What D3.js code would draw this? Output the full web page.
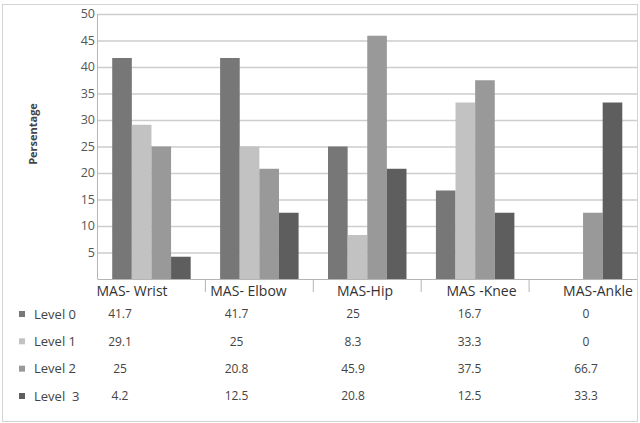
<!DOCTYPE html>
<html>
<head>
<meta charset="utf-8">
<script src="https://cdn.jsdelivr.net/npm/d3@7"></script>
<style>
  body { margin: 0; background: #fff; }
  text { font-family: "Open Sans", sans-serif; }
</style>
</head>
<body>
<svg id="chart" width="640" height="423"></svg>
<script>
// chart data
var categories = ["MAS- Wrist", "MAS- Elbow", "MAS-Hip", "MAS -Knee", "MAS-Ankle"];
var levels = ["Level 0", "Level 1", "Level 2", "Level  3"];
// bar heights as drawn
var level0 = [41.7, 41.7, 25, 16.7, 0];
var level1 = [29.1, 25, 8.3, 33.3, 0];
var level2 = [25, 20.8, 45.9, 37.5, 12.5];
var level3 = [4.2, 12.5, 20.8, 12.5, 33.3];
// numbers printed in the data table
var table0 = ["41.7", "41.7", "25", "16.7", "0"];
var table1 = ["29.1", "25", "8.3", "33.3", "0"];
var table2 = ["25", "20.8", "45.9", "37.5", "66.7"];
var table3 = ["4.2", "12.5", "20.8", "12.5", "33.3"];
var yTicks = [5, 10, 15, 20, 25, 30, 35, 40, 45, 50];

var series = [level0, level1, level2, level3];
var tableRows = [table0, table1, table2, table3];
var colors = ["#777777", "#c2c2c2", "#999999", "#5e5e5e"];

var svg = d3.select("#chart");

// outer frame
svg.append("rect")
  .attr("x", 2.5).attr("y", 4.5).attr("width", 635).attr("height", 417)
  .attr("fill", "none").attr("stroke", "#d4d4d4");

var plotLeft = 97.5, plotRight = 637, plotTop = 14, plotBottom = 279;

var x = d3.scaleBand().domain(categories).range([plotLeft, plotRight]).paddingInner(0).paddingOuter(0);
var xSub = d3.scaleBand().domain(d3.range(4)).range([0, x.bandwidth()]).paddingInner(0).paddingOuter(0.75);
var y = d3.scaleLinear().domain([0, 50]).range([plotBottom, plotTop]);

// grid lines
svg.append("g")
  .selectAll("line")
  .data(yTicks)
  .enter()
  .append("line")
  .attr("x1", plotLeft).attr("x2", plotRight)
  .attr("y1", function (d) { return y(d) + 0.5; })
  .attr("y2", function (d) { return y(d) + 0.5; })
  .attr("stroke", "#cdcdcd").attr("stroke-width", 1.3);

// y tick labels
svg.append("g")
  .selectAll("text")
  .data(yTicks)
  .enter()
  .append("text")
  .attr("x", 95)
  .attr("y", function (d) { return y(d); })
  .attr("dy", "0.35em")
  .attr("text-anchor", "end")
  .style("font-size", "12.5px")
  .style("fill", "#555")
  .text(function (d) { return d; });

// bars
svg.append("g")
  .selectAll("g")
  .data(series)
  .enter()
  .append("g")
  .attr("fill", function (d, i) { return colors[i]; })
  .each(function (vals, i) {
    d3.select(this).selectAll("rect")
      .data(vals)
      .enter()
      .append("rect")
      .attr("x", function (d, j) { return x(categories[j]) + xSub(i); })
      .attr("y", function (d) { return y(d); })
      .attr("width", xSub.bandwidth())
      .attr("height", function (d) { return plotBottom - y(d); });
  });

// axes lines
svg.append("line")
  .attr("x1", plotLeft).attr("x2", plotLeft).attr("y1", plotTop).attr("y2", plotBottom)
  .attr("stroke", "#b5b5b5");
svg.append("line")
  .attr("x1", plotLeft).attr("x2", plotRight).attr("y1", plotBottom + 0.5).attr("y2", plotBottom + 0.5)
  .attr("stroke", "#b5b5b5");

// category dividers under the axis
svg.append("g")
  .selectAll("line")
  .data(categories.slice(1))
  .enter()
  .append("line")
  .attr("x1", function (d) { return x(d); })
  .attr("x2", function (d) { return x(d); })
  .attr("y1", plotBottom).attr("y2", 292)
  .attr("stroke", "#b5b5b5");

// y axis title
svg.append("text")
  .attr("transform", "translate(37,134) rotate(-90)")
  .attr("text-anchor", "middle")
  .style("font-size", "11px")
  .style("font-weight", "bold")
  .style("fill", "#444")
  .text("Persentage");

// data table: columns drift slightly wider than the bands
var tableX = d3.scalePoint().domain(categories).range([120, 586]);
var rowY = d3.scalePoint().domain(d3.range(4)).range([314, 396]);

svg.append("g")
  .selectAll("text")
  .data(categories)
  .enter()
  .append("text")
  .attr("x", function (d) { return tableX(d) + 12; })
  .attr("y", 291)
  .attr("dy", "0.35em")
  .attr("text-anchor", "middle")
  .style("font-size", "14px")
  .style("fill", "#333")
  .text(function (d) { return d; });

var legend = svg.append("g")
  .selectAll("g")
  .data(levels)
  .enter()
  .append("g");
legend.append("rect")
  .attr("x", 19)
  .attr("y", function (d, i) { return rowY(i) - 3; })
  .attr("width", 6).attr("height", 6)
  .attr("fill", function (d, i) { return colors[i]; });
legend.append("text")
  .attr("x", 34)
  .attr("y", function (d, i) { return rowY(i); })
  .attr("dy", "0.35em")
  .style("font-size", "13px")
  .style("fill", "#444")
  .attr("xml:space", "preserve")
  .text(function (d) { return d; });

svg.append("g")
  .selectAll("g")
  .data(tableRows)
  .enter()
  .append("g")
  .each(function (row, i) {
    d3.select(this).selectAll("text")
      .data(row)
      .enter()
      .append("text")
      .attr("x", function (d, j) { return tableX(categories[j]); })
      .attr("y", rowY(i))
      .attr("dy", "0.35em")
      .attr("text-anchor", "middle")
      .style("font-size", "12px")
      .style("fill", "#444")
      .text(function (d) { return d; });
  });
</script>
</body>
</html>
